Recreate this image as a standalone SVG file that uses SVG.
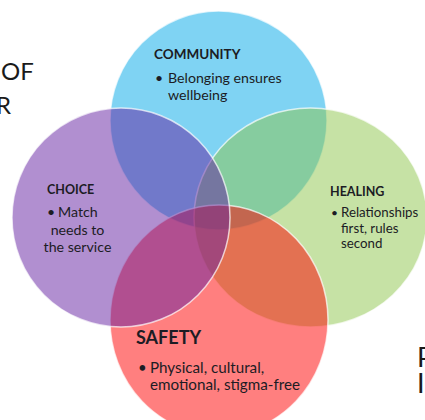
<svg xmlns="http://www.w3.org/2000/svg" width="425" height="420" viewBox="0 0 425 420">
<style>
.c{fill-opacity:0.5;stroke:#ffffff;stroke-opacity:0.7;stroke-width:1.5}
.h{font-family:Lato,"Liberation Sans",sans-serif;font-weight:bold;fill:#1c1c24}
.b{font-family:Lato,"Liberation Sans",sans-serif;fill:#1c1c24}
.side{font-family:Lato,"Liberation Sans",sans-serif;fill:#1a1a1a}
</style>
<rect width="425" height="420" fill="#ffffff"/>
<text class="side" x="1" y="80" font-size="24">OF</text>
<text class="side" x="-4" y="114" font-size="24">R</text>
<text class="side" x="417" y="367" font-size="27">P</text>
<text class="side" x="417" y="393" font-size="27">I</text>
<g id="community">
<ellipse class="c" cx="218.5" cy="120.5" rx="108.5" ry="109.5" fill="#00A7E7"/>
<text class="h" x="154" y="59" font-size="13.5">COMMUNITY</text>
<text class="b" x="155" y="83" font-size="14">•</text>
<text class="b" x="168" y="83" font-size="14.2">Belonging ensures</text>
<text class="b" x="168" y="100" font-size="14.2">wellbeing</text>
</g>
<g id="healing">
<ellipse class="c" cx="310.5" cy="217.5" rx="116.5" ry="109.5" fill="#8DC54B"/>
<text class="h" x="330" y="196" font-size="12.5">HEALING</text>
<text class="b" x="331" y="217" font-size="12">•</text>
<text class="b" x="341" y="217" font-size="13.3">Relationships</text>
<text class="b" x="341" y="232.5" font-size="13.3">first, rules</text>
<text class="b" x="341" y="248" font-size="13.3">second</text>
</g>
<g id="safety">
<ellipse class="c" cx="219" cy="320" rx="109" ry="115" fill="#FF0000"/>
<text class="h" x="136" y="344" font-size="18">SAFETY</text>
<text class="b" x="138" y="373" font-size="15">•</text>
<text class="b" x="150" y="373" font-size="15.2">Physical, cultural,</text>
<text class="b" x="150" y="390" font-size="15.2">emotional, stigma-free</text>
</g>
<g id="choice">
<ellipse class="c" cx="121" cy="217.5" rx="109" ry="109.5" fill="#631FA1"/>
<text class="h" x="47" y="194" font-size="12.5">CHOICE</text>
<text class="b" x="47" y="217" font-size="14">•</text>
<text class="b" x="58" y="217" font-size="14.2">Match</text>
<text class="b" x="77.5" y="235" font-size="14.2" text-anchor="middle">needs to</text>
<text class="b" x="77.5" y="252" font-size="14.2" text-anchor="middle">the service</text>
</g>
<g id="connectors"/>
</svg>
